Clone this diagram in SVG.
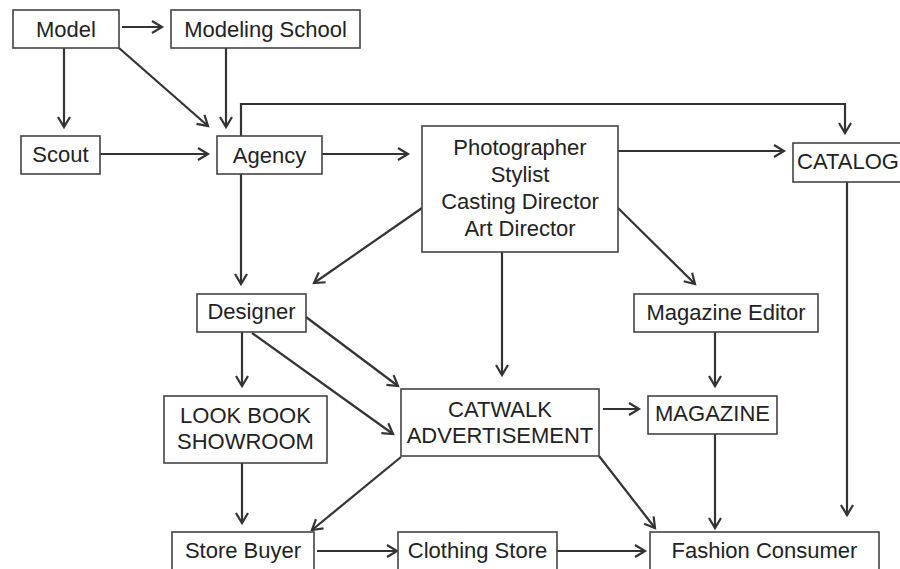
<svg xmlns="http://www.w3.org/2000/svg" width="900" height="569" viewBox="0 0 900 569">
<defs>
<marker id="ah" markerUnits="userSpaceOnUse" markerWidth="14" markerHeight="16" refX="11" refY="7" orient="auto" overflow="visible">
<path d="M1,1 L11,7 L1,13" fill="none" stroke="#333" stroke-width="2.2" stroke-linejoin="miter"/>
</marker>
<style>
.box{fill:#fff;stroke:#444;stroke-width:1.6}
.t{font-family:"Liberation Sans",Arial,sans-serif;font-size:22px;fill:#222;text-anchor:middle}
.c{fill:none;stroke:#333;stroke-width:2.2}
</style>
</defs>
<rect width="900" height="569" fill="#fff"/>
<g id="connectors">
<line class="c" x1="122" y1="27" x2="162" y2="27" marker-end="url(#ah)"/>
<line class="c" x1="64" y1="48" x2="64" y2="127" marker-end="url(#ah)"/>
<line class="c" x1="119" y1="48" x2="208" y2="126" marker-end="url(#ah)"/>
<line class="c" x1="226" y1="48" x2="226" y2="127" marker-end="url(#ah)"/>
<polyline class="c" points="241,136 241,104 845,104 845,133" marker-end="url(#ah)"/>
<line class="c" x1="100" y1="154" x2="208" y2="154" marker-end="url(#ah)"/>
<line class="c" x1="322" y1="154" x2="408" y2="154" marker-end="url(#ah)"/>
<line class="c" x1="618" y1="151" x2="784" y2="151" marker-end="url(#ah)"/>
<line class="c" x1="422" y1="208" x2="314" y2="283" marker-end="url(#ah)"/>
<line class="c" x1="618" y1="208" x2="695" y2="284" marker-end="url(#ah)"/>
<line class="c" x1="502" y1="252" x2="502" y2="375" marker-end="url(#ah)"/>
<line class="c" x1="847" y1="182" x2="847" y2="515" marker-end="url(#ah)"/>
<line class="c" x1="241" y1="174" x2="241" y2="284" marker-end="url(#ah)"/>
<line class="c" x1="242" y1="332" x2="242" y2="386" marker-end="url(#ah)"/>
<line class="c" x1="306" y1="317" x2="398" y2="386" marker-end="url(#ah)"/>
<line class="c" x1="252" y1="333" x2="393" y2="434" marker-end="url(#ah)"/>
<line class="c" x1="242" y1="463" x2="242" y2="523" marker-end="url(#ah)"/>
<line class="c" x1="603" y1="409" x2="639" y2="409" marker-end="url(#ah)"/>
<line class="c" x1="715" y1="332" x2="715" y2="386" marker-end="url(#ah)"/>
<line class="c" x1="715" y1="434" x2="715" y2="528" marker-end="url(#ah)"/>
<line class="c" x1="599" y1="456" x2="655" y2="528" marker-end="url(#ah)"/>
<line class="c" x1="401" y1="457" x2="312" y2="530" marker-end="url(#ah)"/>
<line class="c" x1="317" y1="551" x2="397" y2="551" marker-end="url(#ah)"/>
<line class="c" x1="557" y1="551" x2="645" y2="551" marker-end="url(#ah)"/>
</g>
<g id="model"><rect class="box" x="13" y="10" width="106" height="38"/><text class="t" x="66" y="37">Model</text></g>
<g id="modeling-school"><rect class="box" x="171" y="10" width="189" height="38"/><text class="t" x="265.5" y="37">Modeling School</text></g>
<g id="scout"><rect class="box" x="21" y="136" width="79" height="38"/><text class="t" x="60.5" y="162">Scout</text></g>
<g id="agency"><rect class="box" x="217" y="136" width="105" height="38"/><text class="t" x="269.5" y="163">Agency</text></g>
<g id="photographer"><rect class="box" x="422" y="126" width="196" height="126"/>
<text class="t" x="520" y="155">Photographer</text>
<text class="t" x="520" y="182">Stylist</text>
<text class="t" x="520" y="209">Casting Director</text>
<text class="t" x="520" y="236">Art Director</text></g>
<g id="catalog"><rect class="box" x="793" y="143" width="130" height="39"/><text class="t" x="797" y="169" style="text-anchor:start">CATALOG</text></g>
<g id="designer"><rect class="box" x="197" y="294" width="109" height="38"/><text class="t" x="251.5" y="319">Designer</text></g>
<g id="magazine-editor"><rect class="box" x="634" y="294" width="184" height="38"/><text class="t" x="726" y="320">Magazine Editor</text></g>
<g id="lookbook"><rect class="box" x="164" y="396" width="163" height="67"/>
<text class="t" x="245.5" y="423">LOOK BOOK</text>
<text class="t" x="245.5" y="449">SHOWROOM</text></g>
<g id="catwalk"><rect class="box" x="401" y="389" width="198" height="67"/>
<text class="t" x="500" y="417">CATWALK</text>
<text class="t" x="500" y="443">ADVERTISEMENT</text></g>
<g id="magazine"><rect class="box" x="648" y="396" width="129" height="38"/><text class="t" x="712.5" y="421">MAGAZINE</text></g>
<g id="store-buyer"><rect class="box" x="172" y="532" width="142" height="50"/><text class="t" x="243" y="558">Store Buyer</text></g>
<g id="clothing-store"><rect class="box" x="398" y="532" width="159" height="50"/><text class="t" x="477.5" y="558">Clothing Store</text></g>
<g id="fashion-consumer"><rect class="box" x="650" y="532" width="229" height="50"/><text class="t" x="764.5" y="558">Fashion Consumer</text></g>
</svg>
